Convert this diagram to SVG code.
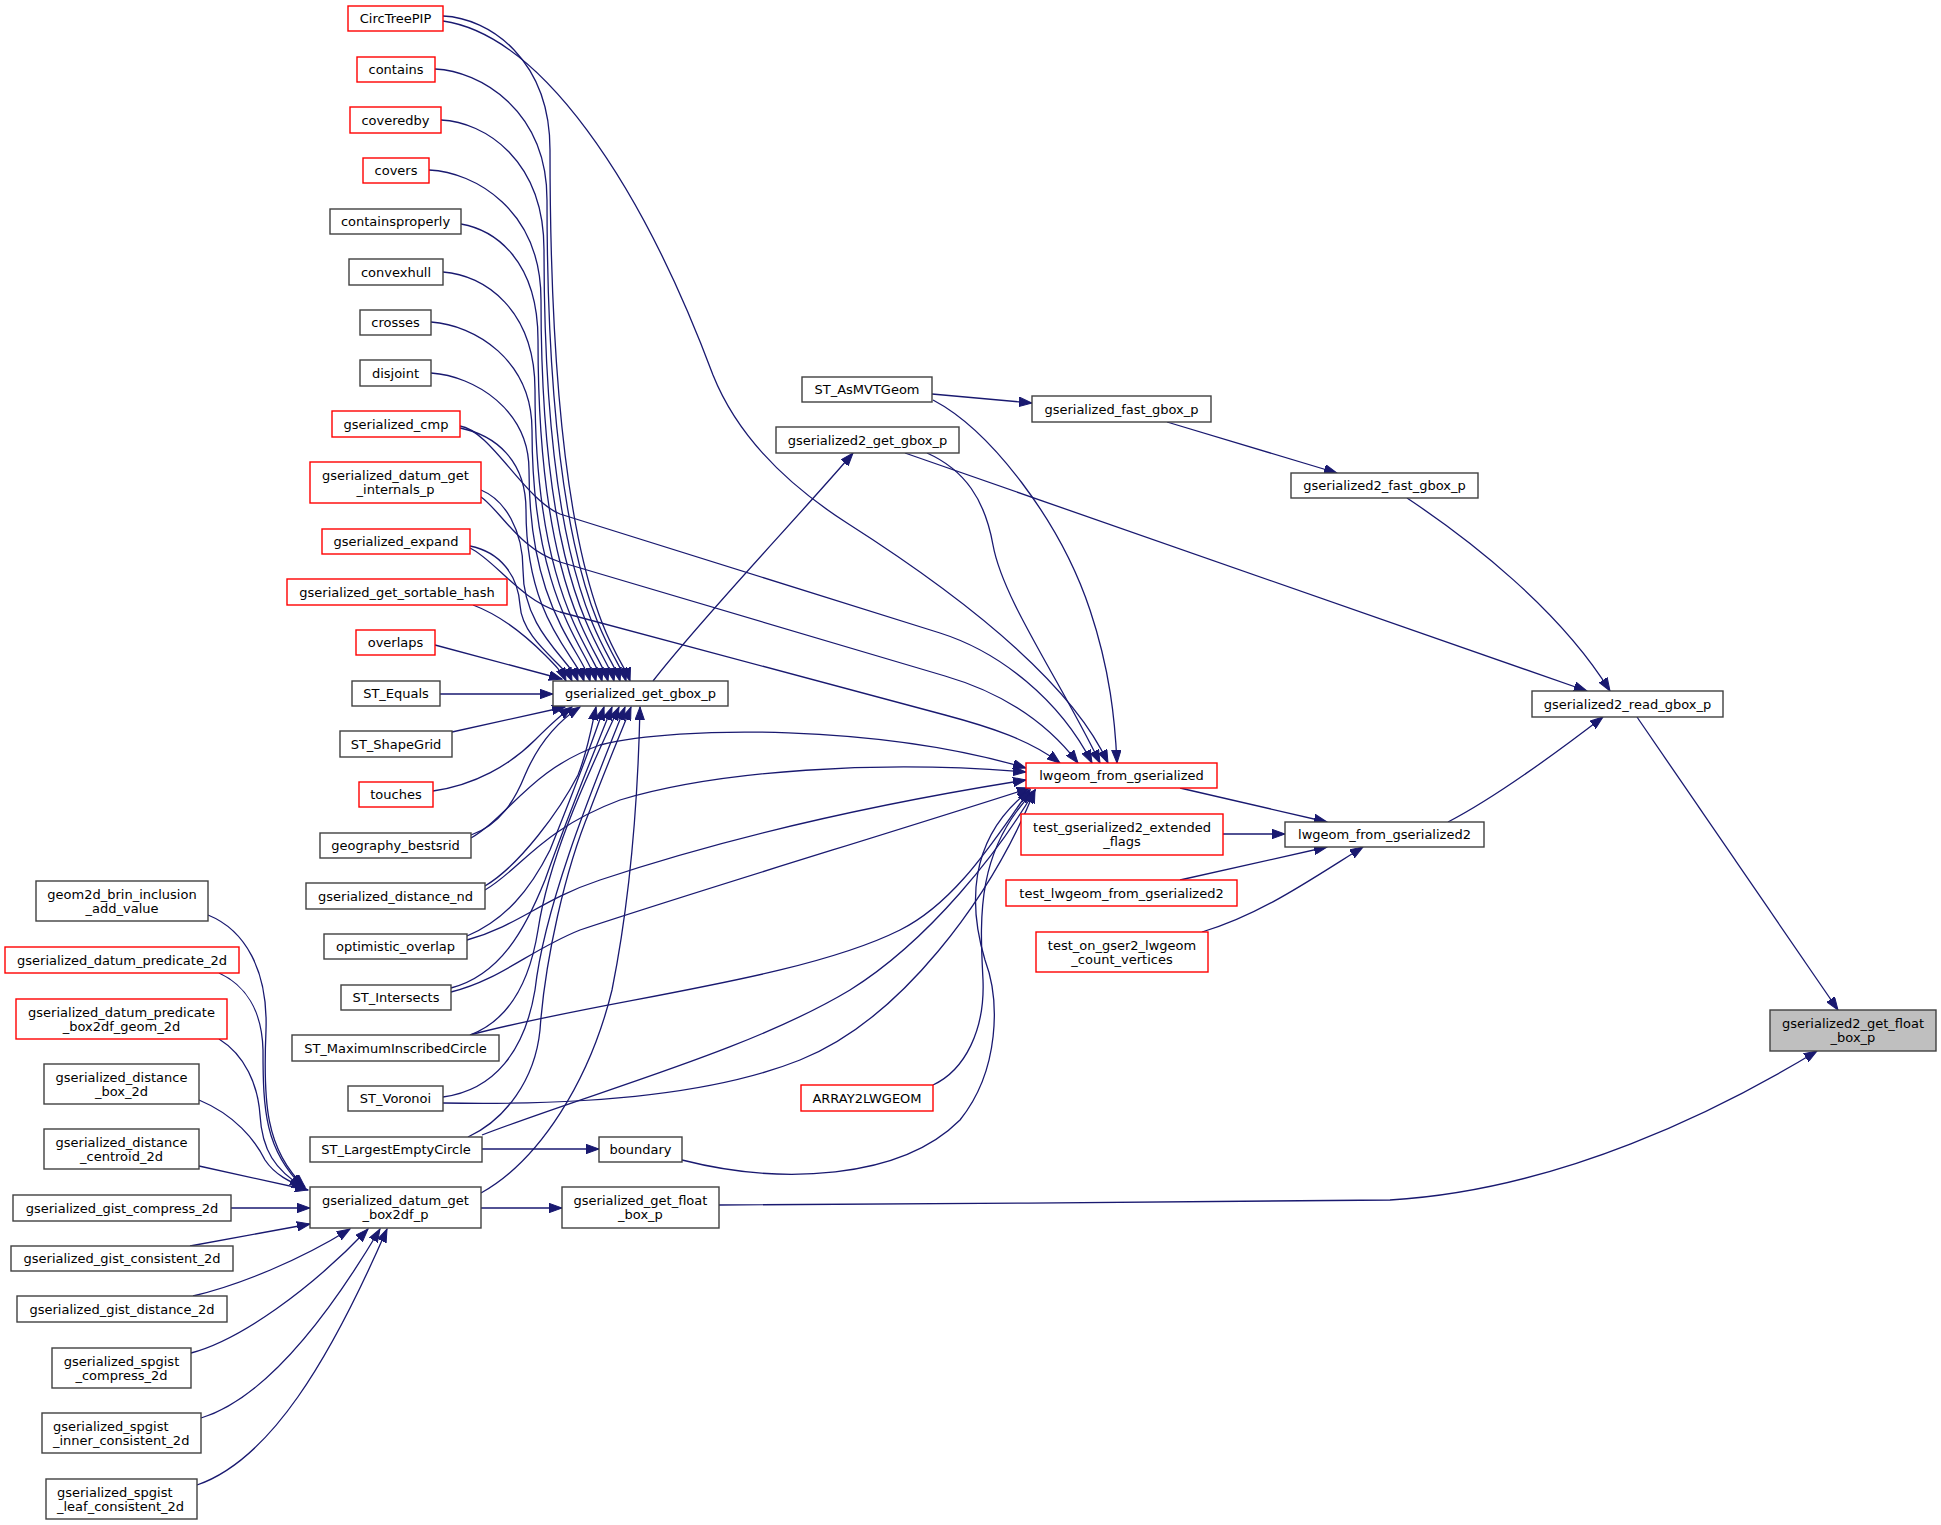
<svg xmlns="http://www.w3.org/2000/svg" width="1941" height="1525" viewBox="0 0 1941 1525">
<style>
.n rect{fill:#fff;stroke:#404040;stroke-width:1.4}
.n.r rect{stroke:#ff0000}
.n.root rect{fill:#bfbfbf}
text{font-family:"DejaVu Sans","Liberation Sans",sans-serif;font-size:13px;text-anchor:middle;fill:#000}
text.s{text-anchor:start}
#edges path{fill:none;stroke:#191970;stroke-width:1.3;marker-end:url(#a)}
</style>
<defs>
<marker id="a" markerUnits="userSpaceOnUse" markerWidth="14" markerHeight="10" refX="13" refY="5" orient="auto" viewBox="0 0 14 10">
<path d="M0,0.3 L13,5 L0,9.7 z" fill="#191970" stroke="#191970" stroke-width="1"/>
</marker>
</defs>
<rect width="1941" height="1525" fill="#fff"/>
<g id="edges">
<path d="M443,16 C490,18 550,60 550,150 C550,600 620,650 630,681"/>
<path d="M435,69 C480,71 547,110 547,200 C547,600 617,650 626,681"/>
<path d="M441,120 C485,122 544,160 544,250 C544,600 612,650 620,681"/>
<path d="M429,170 C475,172 541,210 541,300 C541,600 607,650 614,681"/>
<path d="M461,224 C495,230 538,260 538,340 C538,600 600,650 608,681"/>
<path d="M443,272 C485,275 535,310 535,390 C535,600 594,650 602,681"/>
<path d="M431,322 C475,325 532,360 532,430 C532,600 588,650 596,681"/>
<path d="M431,373 C475,376 529,410 529,470 C529,610 582,650 590,681"/>
<path d="M460,428 C495,435 526,460 526,510 C526,620 576,655 584,681"/>
<path d="M481,490 C505,500 523,530 523,570 C523,630 570,660 578,681"/>
<path d="M470,546 C500,552 518,575 520,605 C522,640 565,665 572,681"/>
<path d="M473,605 C500,615 525,635 545,655 C555,665 562,672 566,681"/>
<path d="M435,645 L562,679"/>
<path d="M440,694 L553,694"/>
<path d="M452,732 L565,707"/>
<path d="M433,791 C475,785 510,765 535,740 C550,725 562,714 572,707"/>
<path d="M471,835 C500,825 515,800 525,775 C540,740 560,720 580,707"/>
<path d="M485,886 C520,865 560,810 578,775 C588,750 592,725 596,707"/>
<path d="M467,936 C505,920 530,890 550,850 C570,800 590,750 604,707"/>
<path d="M451,988 C500,975 525,930 545,880 C570,810 595,750 612,707"/>
<path d="M470,1035 C510,1020 530,980 538,930 C550,850 595,760 619,707"/>
<path d="M443,1097 C495,1090 525,1050 535,990 C545,900 600,770 625,707"/>
<path d="M468,1137 C505,1120 535,1080 540,1030 C545,960 565,870 590,810 C605,770 622,730 631,707"/>
<path d="M481,1193 C540,1160 590,1080 612,990 C630,900 638,800 640,707"/>
<path d="M653,681 C700,620 800,515 853,453"/>
<path d="M905,453 L1587,691"/>
<path d="M927,453 C965,470 985,500 993,545 C1003,600 1060,680 1100,763"/>
<path d="M932,394 L1032,403"/>
<path d="M933,400 C990,430 1060,520 1090,610 C1110,670 1115,720 1117,763"/>
<path d="M1167,422 L1337,473"/>
<path d="M1407,498 C1470,540 1560,610 1610,691"/>
<path d="M1448,822 C1500,795 1560,750 1603,717"/>
<path d="M1637,717 L1838,1010"/>
<path d="M719,1205 C900,1203 1250,1203 1390,1200 C1560,1190 1720,1110 1817,1051"/>
<path d="M481,1208 L562,1208"/>
<path d="M482,1149 L599,1149"/>
<path d="M682,1160 C780,1185 900,1180 960,1120 C1000,1070 1000,1000 985,960 C970,910 965,840 1030,790"/>
<path d="M933,1085 C965,1070 985,1030 983,980 C980,920 975,850 1035,790"/>
<path d="M443,21 C540,35 640,180 713,375 C735,430 780,480 847,523 C960,595 1070,680 1108,763"/>
<path d="M460,426 C490,430 525,500 560,514 L940,633 C1000,652 1060,700 1092,763"/>
<path d="M481,497 C500,510 520,550 560,562 L945,676 C1000,692 1045,720 1078,763"/>
<path d="M470,548 C495,560 520,600 560,612 L945,715 C990,727 1030,740 1060,763"/>
<path d="M471,838 C510,815 530,770 600,745 C680,725 880,725 1026,768"/>
<path d="M485,890 C520,870 540,830 620,800 C720,770 880,760 1026,772"/>
<path d="M467,940 C520,925 540,900 600,880 C750,830 900,800 1026,780"/>
<path d="M451,992 C500,980 530,950 580,930 C700,890 900,830 1030,788"/>
<path d="M470,1035 C600,1000 800,980 900,930 C960,900 1000,830 1030,790"/>
<path d="M443,1103 C550,1105 700,1100 800,1060 C900,1020 990,900 1035,790"/>
<path d="M482,1135 C600,1090 750,1050 850,990 C930,940 1000,850 1035,790"/>
<path d="M1180,788 L1327,822"/>
<path d="M1223,834 L1285,834"/>
<path d="M1180,880 L1327,847"/>
<path d="M1202,932 C1260,915 1310,880 1363,847"/>
<path d="M208,915 C245,930 268,970 266,1030 C263,1100 265,1150 305,1187"/>
<path d="M219,973 C245,985 262,1010 263,1050 C263,1110 265,1150 303,1187"/>
<path d="M219,1039 C245,1055 258,1085 260,1115 C262,1150 275,1170 303,1187"/>
<path d="M199,1100 C235,1115 255,1140 265,1160 C275,1175 290,1182 305,1188"/>
<path d="M199,1166 L308,1190"/>
<path d="M231,1208 L310,1208"/>
<path d="M190,1246 L310,1224"/>
<path d="M193,1296 C240,1285 300,1260 350,1229"/>
<path d="M191,1353 C240,1340 310,1290 368,1229"/>
<path d="M201,1418 C260,1400 320,1330 380,1229"/>
<path d="M197,1485 C270,1460 330,1360 387,1229"/>
</g>
<g id="n1" class="n r"><rect x="348" y="6" width="95" height="25"/><text x="395.5" y="23">CircTreePIP</text></g>
<g id="n2" class="n r"><rect x="357" y="57" width="78" height="25"/><text x="396" y="74">contains</text></g>
<g id="n3" class="n r"><rect x="350" y="107" width="91" height="26"/><text x="395.5" y="124.5">coveredby</text></g>
<g id="n4" class="n r"><rect x="363" y="158" width="66" height="25"/><text x="396" y="175">covers</text></g>
<g id="n5" class="n"><rect x="330" y="209" width="131" height="25"/><text x="395.5" y="226">containsproperly</text></g>
<g id="n6" class="n"><rect x="349" y="259" width="94" height="26"/><text x="396" y="276.5">convexhull</text></g>
<g id="n7" class="n"><rect x="360" y="310" width="71" height="25"/><text x="395.5" y="327">crosses</text></g>
<g id="n8" class="n"><rect x="360" y="360" width="71" height="26"/><text x="395.5" y="377.5">disjoint</text></g>
<g id="n9" class="n r"><rect x="332" y="411" width="128" height="26"/><text x="396" y="428.5">gserialized_cmp</text></g>
<g id="n10" class="n r"><rect x="310" y="462" width="171" height="41"/><text x="395.5" y="479.5">gserialized_datum_get</text><text x="395.5" y="493.5">_internals_p</text></g>
<g id="n11" class="n r"><rect x="322" y="529" width="148" height="25"/><text x="396" y="546">gserialized_expand</text></g>
<g id="n12" class="n r"><rect x="287" y="579" width="220" height="26"/><text x="397" y="596.5">gserialized_get_sortable_hash</text></g>
<g id="n13" class="n r"><rect x="356" y="630" width="79" height="25"/><text x="395.5" y="647">overlaps</text></g>
<g id="n14" class="n"><rect x="352" y="681" width="88" height="25"/><text x="396" y="698">ST_Equals</text></g>
<g id="n15" class="n"><rect x="340" y="731" width="112" height="26"/><text x="396" y="748.5">ST_ShapeGrid</text></g>
<g id="n16" class="n r"><rect x="359" y="782" width="74" height="25"/><text x="396" y="799">touches</text></g>
<g id="n17" class="n"><rect x="320" y="833" width="151" height="25"/><text x="395.5" y="850">geography_bestsrid</text></g>
<g id="n18" class="n"><rect x="306" y="883" width="179" height="26"/><text x="395.5" y="900.5">gserialized_distance_nd</text></g>
<g id="n19" class="n"><rect x="324" y="934" width="143" height="25"/><text x="395.5" y="951">optimistic_overlap</text></g>
<g id="n20" class="n"><rect x="341" y="985" width="110" height="25"/><text x="396" y="1002">ST_Intersects</text></g>
<g id="n21" class="n"><rect x="292" y="1035" width="207" height="26"/><text x="395.5" y="1052.5">ST_MaximumInscribedCircle</text></g>
<g id="n22" class="n"><rect x="348" y="1086" width="95" height="25"/><text x="395.5" y="1103">ST_Voronoi</text></g>
<g id="n23" class="n"><rect x="310" y="1137" width="172" height="25"/><text x="396" y="1154">ST_LargestEmptyCircle</text></g>
<g id="n24" class="n"><rect x="310" y="1187" width="171" height="41"/><text x="395.5" y="1204.5">gserialized_datum_get</text><text x="395.5" y="1218.5">_box2df_p</text></g>
<g id="n25" class="n"><rect x="36" y="881" width="172" height="40"/><text x="122" y="898.5">geom2d_brin_inclusion</text><text x="122" y="912.5">_add_value</text></g>
<g id="n26" class="n r"><rect x="5" y="947" width="234" height="26"/><text x="122" y="964.5">gserialized_datum_predicate_2d</text></g>
<g id="n27" class="n r"><rect x="16" y="999" width="211" height="40"/><text x="121.5" y="1016.5">gserialized_datum_predicate</text><text x="121.5" y="1030.5">_box2df_geom_2d</text></g>
<g id="n28" class="n"><rect x="44" y="1064" width="155" height="40"/><text x="121.5" y="1081.5">gserialized_distance</text><text x="121.5" y="1095.5">_box_2d</text></g>
<g id="n29" class="n"><rect x="44" y="1129" width="155" height="40"/><text x="121.5" y="1146.5">gserialized_distance</text><text x="121.5" y="1160.5">_centroid_2d</text></g>
<g id="n30" class="n"><rect x="13" y="1195" width="218" height="26"/><text x="122" y="1212.5">gserialized_gist_compress_2d</text></g>
<g id="n31" class="n"><rect x="11" y="1246" width="222" height="25"/><text x="122" y="1263">gserialized_gist_consistent_2d</text></g>
<g id="n32" class="n"><rect x="17" y="1296" width="210" height="26"/><text x="122" y="1313.5">gserialized_gist_distance_2d</text></g>
<g id="n33" class="n"><rect x="52" y="1348" width="139" height="40"/><text x="121.5" y="1365.5">gserialized_spgist</text><text x="121.5" y="1379.5">_compress_2d</text></g>
<g id="n34" class="n"><rect x="42" y="1413" width="159" height="40"/><text class="s" x="53" y="1430.5">gserialized_spgist</text><text class="s" x="53" y="1444.5">_inner_consistent_2d</text></g>
<g id="n35" class="n"><rect x="46" y="1479" width="151" height="40"/><text class="s" x="57" y="1496.5">gserialized_spgist</text><text class="s" x="57" y="1510.5">_leaf_consistent_2d</text></g>
<g id="n36" class="n"><rect x="553" y="681" width="175" height="25"/><text x="640.5" y="698">gserialized_get_gbox_p</text></g>
<g id="n37" class="n"><rect x="599" y="1137" width="83" height="25"/><text x="640.5" y="1154">boundary</text></g>
<g id="n38" class="n"><rect x="562" y="1187" width="157" height="41"/><text x="640.5" y="1204.5">gserialized_get_float</text><text x="640.5" y="1218.5">_box_p</text></g>
<g id="n39" class="n"><rect x="802" y="377" width="130" height="25"/><text x="867" y="394">ST_AsMVTGeom</text></g>
<g id="n40" class="n"><rect x="776" y="427" width="183" height="26"/><text x="867.5" y="444.5">gserialized2_get_gbox_p</text></g>
<g id="n41" class="n r"><rect x="801" y="1085" width="132" height="26"/><text x="867" y="1102.5">ARRAY2LWGEOM</text></g>
<g id="n42" class="n"><rect x="1032" y="396" width="179" height="26"/><text x="1121.5" y="413.5">gserialized_fast_gbox_p</text></g>
<g id="n43" class="n r"><rect x="1026" y="763" width="191" height="25"/><text x="1121.5" y="780">lwgeom_from_gserialized</text></g>
<g id="n44" class="n r"><rect x="1021" y="814" width="202" height="41"/><text x="1122" y="831.5">test_gserialized2_extended</text><text x="1122" y="845.5">_flags</text></g>
<g id="n45" class="n r"><rect x="1006" y="880" width="231" height="26"/><text x="1121.5" y="897.5">test_lwgeom_from_gserialized2</text></g>
<g id="n46" class="n r"><rect x="1036" y="932" width="172" height="40"/><text x="1122" y="949.5">test_on_gser2_lwgeom</text><text x="1122" y="963.5">_count_vertices</text></g>
<g id="n47" class="n"><rect x="1291" y="473" width="187" height="25"/><text x="1384.5" y="490">gserialized2_fast_gbox_p</text></g>
<g id="n48" class="n"><rect x="1285" y="822" width="199" height="25"/><text x="1384.5" y="839">lwgeom_from_gserialized2</text></g>
<g id="n49" class="n"><rect x="1532" y="691" width="191" height="26"/><text x="1627.5" y="708.5">gserialized2_read_gbox_p</text></g>
<g id="n50" class="n root"><rect x="1770" y="1010" width="166" height="41"/><text x="1853" y="1027.5">gserialized2_get_float</text><text x="1853" y="1041.5">_box_p</text></g>
</svg>
